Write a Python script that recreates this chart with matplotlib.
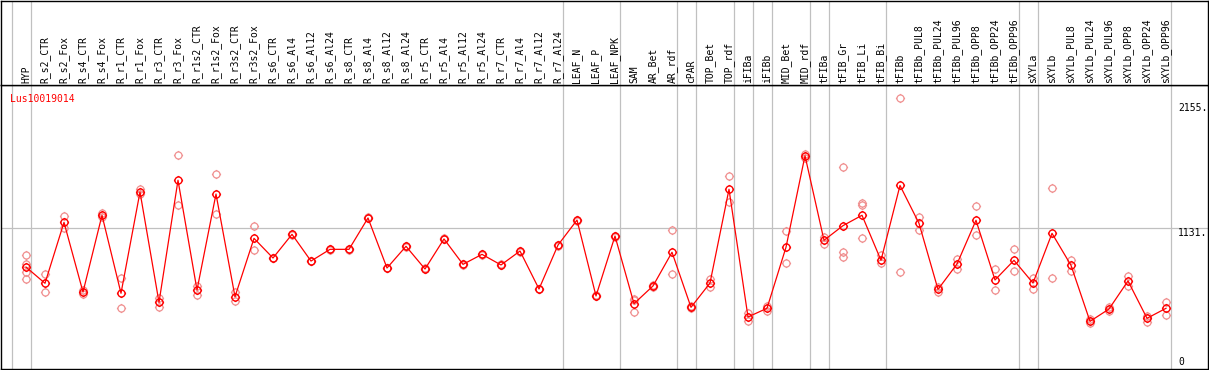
import matplotlib
matplotlib.use("Agg")
import matplotlib.pyplot as plt
from matplotlib.path import Path

# ---------------- data ----------------
samples = ["HYP", "R_s2_CTR", "R_s2_Fox", "R_s4_CTR", "R_s4_Fox", "R_r1_CTR", "R_r1_Fox",
           "R_r3_CTR", "R_r3_Fox", "R_r1s2_CTR", "R_r1s2_Fox", "R_r3s2_CTR", "R_r3s2_Fox",
           "R_s6_CTR", "R_s6_Al4", "R_s6_Al12", "R_s6_Al24", "R_s8_CTR", "R_s8_Al4",
           "R_s8_Al12", "R_s8_Al24", "R_r5_CTR", "R_r5_Al4", "R_r5_Al12", "R_r5_Al24",
           "R_r7_CTR", "R_r7_Al4", "R_r7_Al12", "R_r7_Al24", "LEAF_N", "LEAF_P", "LEAF_NPK",
           "SAM", "AR_Bet", "AR_rdf", "cPAR", "TOP_Bet", "TOP_rdf", "iFIBa", "iFIBb",
           "MID_Bet", "MID_rdf", "tFIBa", "tFIB_Gr", "tFIB_Li", "tFIB_Bi", "tFIBb",
           "tFIBb_PUL8", "tFIBb_PUL24", "tFIBb_PUL96", "tFIBb_OPP8", "tFIBb_OPP24",
           "tFIBb_OPP96", "sXYLa", "sXYLb", "sXYLb_PUL8", "sXYLb_PUL24", "sXYLb_PUL96",
           "sXYLb_OPP8", "sXYLb_OPP24", "sXYLb_OPP96"]

mean_values = [814, 681, 1180, 609, 1238, 599, 1429, 525, 1525, 626, 1412, 571, 1049,
               888, 1082, 863, 959, 959, 1216, 806, 984, 798, 1044, 836, 918, 831, 945,
               634, 994, 1199, 577, 1068, 514, 659, 935, 484, 683, 1451, 405, 476, 976,
               1726, 1033, 1153, 1238, 869, 1482, 1172, 631, 839, 1197, 708, 869, 683,
               1090, 828, 369, 470, 700, 394, 476]

replicates = [[913, 839, 773, 716], [757, 612], [1230, 1136], [626, 593], [1259, 1226],
              [722, 476], [1451, 1412], [563, 489], [1729, 1320], [661, 587], [1574, 1251],
              [607, 538], [1148, 951], [892, 884], [1086, 1078], [866, 860], [962, 956],
              [962, 956], [1220, 1212], [810, 802], [988, 980], [802, 794], [1048, 1040],
              [840, 832], [922, 914], [835, 827], [949, 941], [638, 630], [998, 990],
              [1203, 1195], [581, 573], [1072, 1064], [552, 544, 443], [665, 653],
              [1115, 757], [492, 476], [714, 653], [1560, 1344], [435, 372], [497, 456],
              [1109, 850], [1738, 1710], [1058, 1003], [1633, 940, 896], [1341, 1325, 1049],
              [915, 845], [2196, 771], [1227, 1117], [653, 607], [882, 795], [1314, 1074],
              [795, 623], [959, 779], [727, 637], [1459, 722], [872, 784], [386, 356],
              [489, 451], [741, 659], [415, 366], [525, 424]]

# indices of the last sample in each group (vertical separators after them)
group_ends = [-1, 0, 28, 31, 34, 35, 37, 38, 39, 41, 42, 45, 52, 53, 60]

gene = "Lus10019014"
axis_ticks = [2155, 1131, 0]
tick_text = ["2155.", "1131.", "0"]

# ---------------- figure ----------------
W, H = 1209, 370
fig = plt.figure(figsize=(W / 100, H / 100), dpi=100)
mono = "DejaVu Sans Mono"
fs = 7

header_px = 85
left_px, right_px = 1, 1208
bottom_px = 369

ax = fig.add_axes([left_px / W, (H - bottom_px) / H, (right_px - left_px) / W,
                   (bottom_px - header_px) / H])
hx = fig.add_axes([left_px / W, (H - header_px) / H, (right_px - left_px) / W,
                   (header_px - 0.5) / H])

step = 19.0
x0 = 26.0
xlim = ((left_px - x0) / step, (right_px - x0) / step)
ax.set_xlim(*xlim)
hx.set_xlim(*xlim)
scale = 0.12207
zero_px = 366.4
ax.set_ylim((zero_px - bottom_px) / scale, (zero_px - header_px) / scale)
hx.set_ylim(0, 1)

for a in (ax, hx):
    a.set_xticks([])
    a.set_yticks([])
    for s in a.spines.values():
        s.set_color("black")
        s.set_linewidth(1.0)

grey = "#c0c0c0"
for g in group_ends:
    xs = g + 4.5 / step
    ax.axvline(xs, color=grey, lw=0.9, zorder=1)
    hx.axvline(xs, color=grey, lw=0.9, zorder=1)
ax.axhline(axis_ticks[1], color=grey, lw=0.9, zorder=1)

# header labels
for i, name in enumerate(samples):
    hx.text(i, 2.0 / header_px, name, rotation=90, ha="center", va="bottom",
            family=mono, fontsize=fs, color="black")

# circle marker with four small ticks
circ = Path.unit_circle()
r2 = 1.3
ticks = Path([(0, 1), (0, r2), (0, -1), (0, -r2), (1, 0), (r2, 0), (-1, 0), (-r2, 0)],
             [Path.MOVETO, Path.LINETO] * 4)
tick_circle = Path.make_compound_path(circ, ticks)
msize = 6.6

# replicates
rep_x, rep_y = [], []
for i, reps in enumerate(replicates):
    for v in reps:
        rep_x.append(i)
        rep_y.append(v)
ax.plot(rep_x, rep_y, linestyle="none", marker=tick_circle, markersize=msize, mfc="none",
        mec="#f09090", mew=0.9, zorder=2)

xs = list(range(len(samples)))
ax.plot(xs, mean_values, color="#ff0000", lw=0.9, zorder=3, marker=tick_circle,
        markersize=msize, mfc="none", mec="#ff0000", mew=1.0)

# gene name
ax.text(9 / (right_px - left_px), 1 - 9 / (bottom_px - header_px), gene,
        transform=ax.transAxes, family=mono, fontsize=fs, color="#ff0000",
        ha="left", va="top")

# right value labels
tx = (1178 - left_px) / (right_px - left_px)
for v, t in zip(axis_ticks, tick_text):
    va = "baseline" if v == 0 else "top"
    yv = v + 1.0 / scale if v == 0 else v
    ax.text(tx, yv, t, transform=ax.get_yaxis_transform(), family=mono, fontsize=fs,
            color="black", ha="left", va=va)

fig.savefig("out.png", dpi=100)
